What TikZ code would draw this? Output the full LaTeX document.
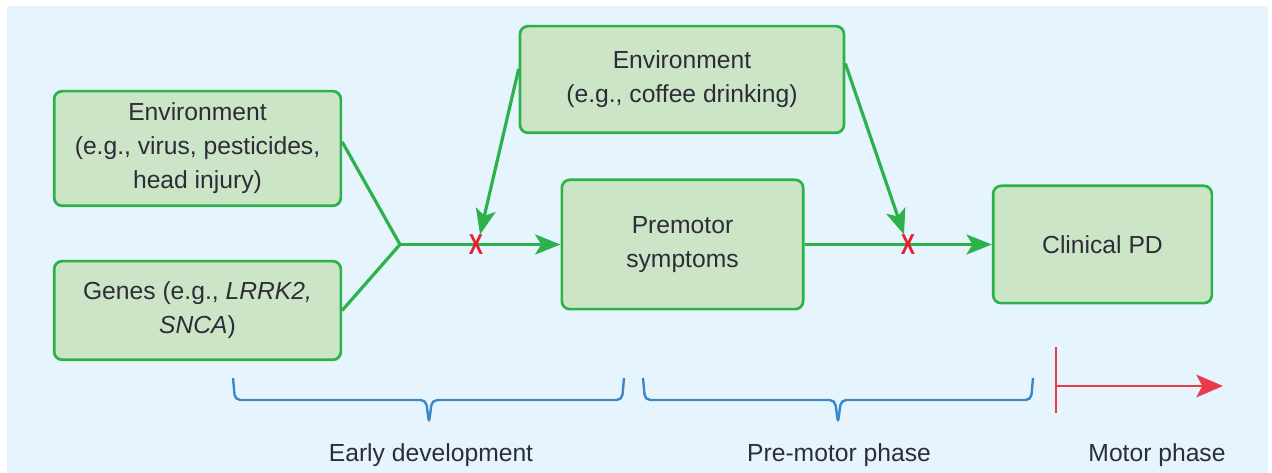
\documentclass[tikz,border=0pt]{standalone}
\usepackage{fontspec}
\setmainfont{Liberation Sans}
\usepackage{graphicx}
\usetikzlibrary{arrows.meta}
\definecolor{bgblue}{RGB}{230,245,253}
\definecolor{boxgreen}{RGB}{205,229,199}
\definecolor{linegreen}{RGB}{45,178,75}
\definecolor{xred}{RGB}{235,30,45}
\definecolor{braceblue}{RGB}{60,135,200}
\definecolor{motorred}{RGB}{232,60,75}
\definecolor{txt}{RGB}{45,45,55}
\tikzset{every picture/.style={line width=0.75pt}}
\tikzset{
	stage/.style={draw=linegreen, fill=boxgreen, line width=2pt, rounded corners=6pt, align=center, text=txt, font=\fontsize{18.5}{25.5}\selectfont},
	link/.style={draw=linegreen, line width=2.4pt},
	linkarrow/.style={link, -{Stealth[length=19pt,width=15pt,inset=4.5pt]}},
	stopmark/.style={text=xred, font=\bfseries\fontsize{16}{16}\selectfont, inner sep=0pt},
	phasebrace/.style={draw=braceblue, line width=1.8pt, rounded corners=4pt},
	motorline/.style={draw=motorred, line width=2.2pt},
	phaselabel/.style={text=txt, font=\fontsize{18.5}{22}\selectfont},
}
\begin{document}
\begin{tikzpicture}[x=0.75pt,y=0.75pt,yscale=-1,xscale=1]
	%set diagram frame, 1272 x 473
	\useasboundingbox (0,0) rectangle (1272,473);
	\fill[white] (0,0) rectangle (1272,473);
	\fill[bgblue] (7,6) rectangle (1268,473);
	
	%Shape: Rectangle
	\node[stage, minimum width=215pt, minimum height=86pt] (env1) at (197.5,148.5) {Environment\\(e.g., virus, pesticides,\\head injury)};
	%Shape: Rectangle
	\node[stage, minimum width=215pt, minimum height=74pt] (genes) at (197.5,310.5) {Genes (e.g., \textit{LRRK2,}\\\textit{SNCA})};
	%Shape: Rectangle
	\node[stage, minimum width=243pt, minimum height=80pt] (env2) at (682,79.5) {Environment\\(e.g., coffee drinking)};
	%Shape: Rectangle
	\node[stage, minimum width=181pt, minimum height=97pt] (premotor) at (682.5,244.5) {Premotor\\symptoms};
	%Shape: Rectangle
	\node[stage, minimum width=164pt, minimum height=88pt] (clinical) at (1102.5,244.5) {Clinical PD};
	
	%Straight Lines
	\coordinate (jn) at (400,244.5);
	\draw[link] ([yshift=-5pt]env1.east) -- (jn);
	\draw[link] (genes.east) -- (jn);
	\draw[linkarrow] (jn) -- (premotor.west);
	\draw[linkarrow] (premotor.east) -- (clinical.west);
	
	% Blocking marks
	\node[stopmark] (x1) at (476,245) {\scalebox{1}[1.35]{X}};
	\node[stopmark] (x2) at (908,245) {\scalebox{1}[1.35]{X}};
	
	%Straight Lines
	\draw[linkarrow] ([yshift=-8pt]env2.west) -- ([xshift=3pt]x1.north);
	\draw[linkarrow] ([yshift=-12pt]env2.east) -- ([xshift=-3pt]x2.north);
	
	%Braces
	\draw[phasebrace] (233,378) -- (235,400) -- (426,400) -- (429,423) -- (432,400) -- (622,400) -- (624,378);
	\draw[phasebrace] (643,378) -- (645,400) -- (835,400) -- (838,423) -- (841,400) -- (1031,400) -- (1033,378);
	
	%Motor phase marker
	\coordinate (mstart) at (1056,386);
	\coordinate (mend) at (1223,386);
	\draw[motorline] (1056,347) -- (1056,413);
	\draw[motorline, -{Stealth[length=20pt,width=17pt,inset=4.5pt]}] (mstart) -- (mend);
	
	% Text Node
	\node[phaselabel] (early) at (431,455) {Early development};
	% Text Node
	\node[phaselabel] (prephase) at (839,455) {Pre-motor phase};
	% Text Node
	\node[phaselabel] (motorphase) at (1157,455) {Motor phase};
\end{tikzpicture}
\end{document}
